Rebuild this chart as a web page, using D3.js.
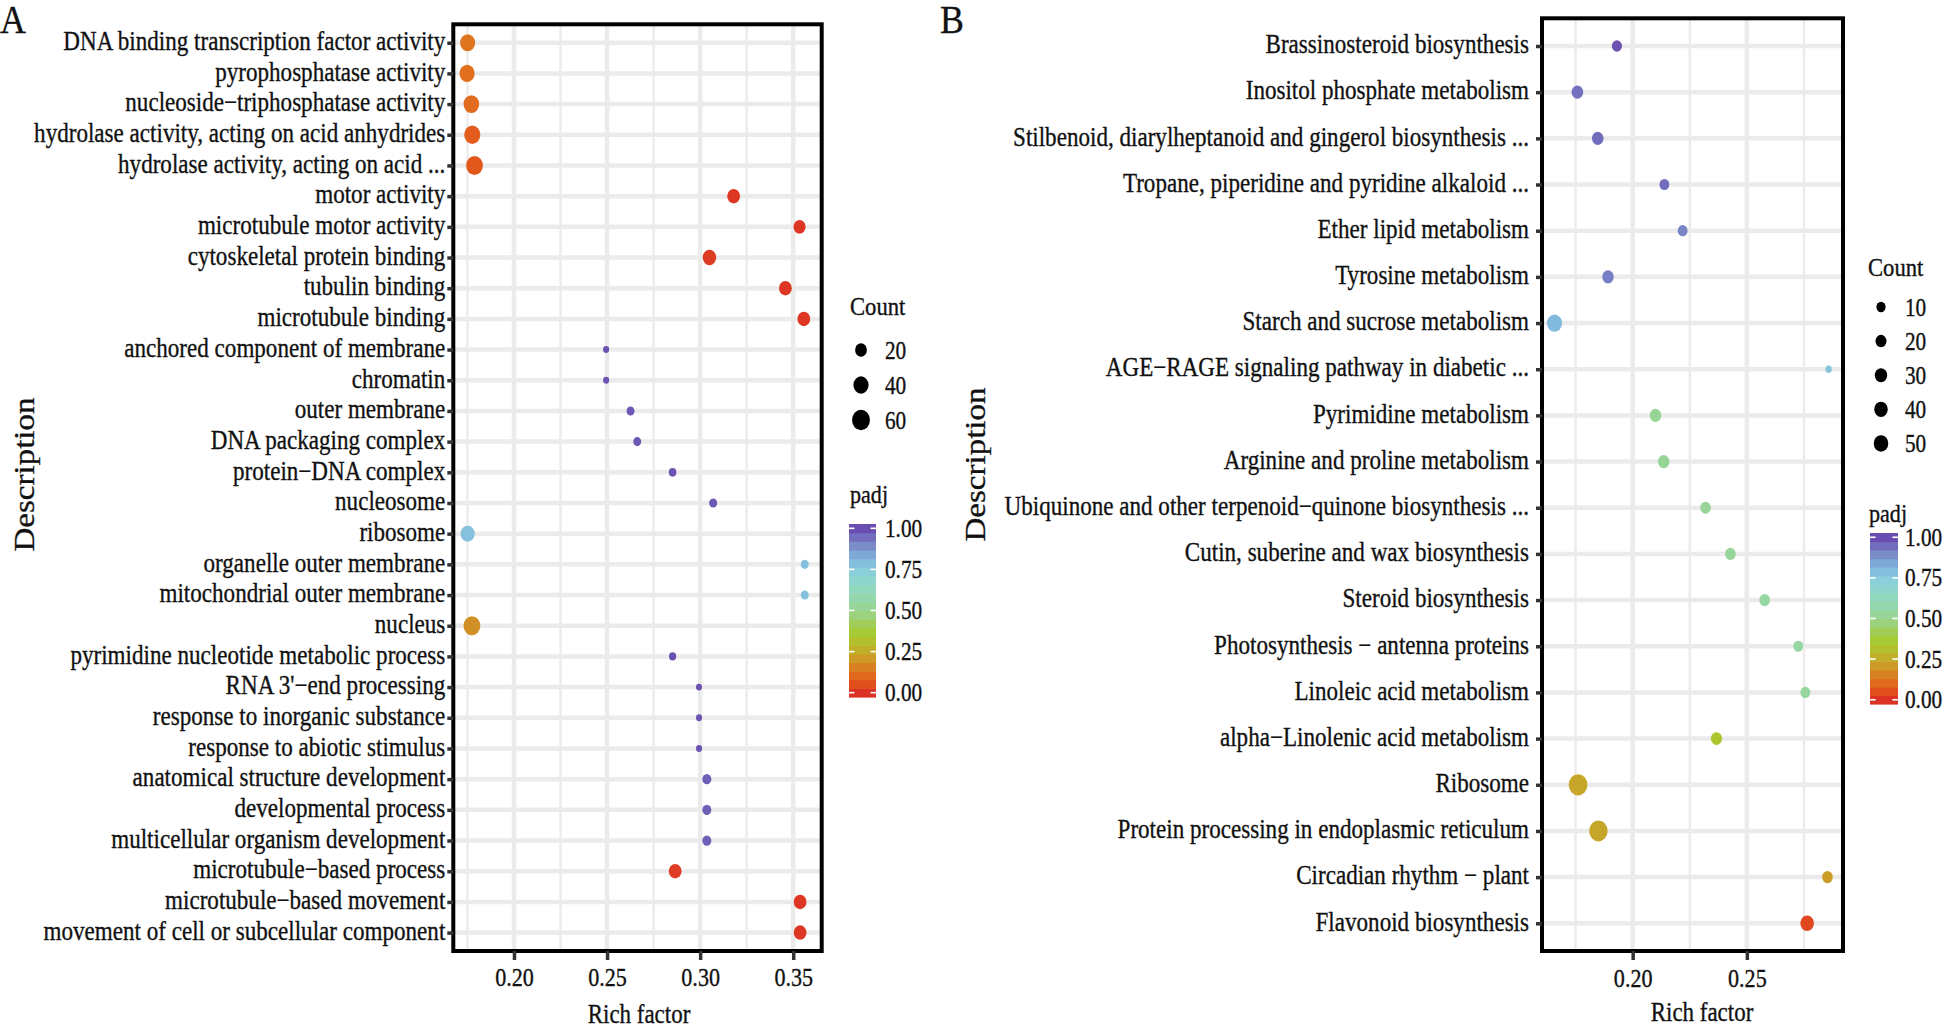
<!DOCTYPE html>
<html><head><meta charset="utf-8">
<script src="https://cdn.jsdelivr.net/npm/d3@7"></script>
<style>
html,body{margin:0;padding:0;background:#fff;}
svg{display:block;}
text{font-family:"Liberation Serif","Times New Roman",serif;fill:#111;stroke:#111;stroke-width:0.35px;}
</style>
</head><body>
<svg id="chart" width="1945" height="1029"></svg>
<script>
// ---------------- DATA ----------------
const goTerms = [
  "DNA binding transcription factor activity",
  "pyrophosphatase activity",
  "nucleoside\u2212triphosphatase activity",
  "hydrolase activity, acting on acid anhydrides",
  "hydrolase activity, acting on acid ...",
  "motor activity",
  "microtubule motor activity",
  "cytoskeletal protein binding",
  "tubulin binding",
  "microtubule binding",
  "anchored component of membrane",
  "chromatin",
  "outer membrane",
  "DNA packaging complex",
  "protein\u2212DNA complex",
  "nucleosome",
  "ribosome",
  "organelle outer membrane",
  "mitochondrial outer membrane",
  "nucleus",
  "pyrimidine nucleotide metabolic process",
  "RNA 3'\u2212end processing",
  "response to inorganic substance",
  "response to abiotic stimulus",
  "anatomical structure development",
  "developmental process",
  "multicellular organism development",
  "microtubule\u2212based process",
  "microtubule\u2212based movement",
  "movement of cell or subcellular component"
];
const goRich = [0.1751,0.1748,0.1771,0.1776,0.1788,0.3180,0.3534,0.3050,0.3458,0.3557,
  0.2495,0.2495,0.2626,0.2662,0.2852,0.3070,0.1751,0.3562,0.3562,0.1774,
  0.2852,0.2994,0.2994,0.2994,0.3036,0.3036,0.3036,0.2866,0.3537,0.3537];
const goCount = [39,39,43,46,51,25,22,29,25,25,
  2,2,6,6,5,6,33,6,6,52,
  4,2,2,2,9,9,9,25,25,25];
const goPadj = [0.13,0.12,0.11,0.08,0.07,0.01,0.01,0.02,0.01,0.01,
  0.99,0.99,0.98,0.98,0.99,0.98,0.78,0.78,0.78,0.19,
  0.99,0.99,0.99,0.99,0.97,0.97,0.97,0.02,0.01,0.01];

const keggTerms = [
  "Brassinosteroid biosynthesis",
  "Inositol phosphate metabolism",
  "Stilbenoid, diarylheptanoid and gingerol biosynthesis ...",
  "Tropane, piperidine and pyridine alkaloid ...",
  "Ether lipid metabolism",
  "Tyrosine metabolism",
  "Starch and sucrose metabolism",
  "AGE\u2212RAGE signaling pathway in diabetic ...",
  "Pyrimidine metabolism",
  "Arginine and proline metabolism",
  "Ubiquinone and other terpenoid\u2212quinone biosynthesis ...",
  "Cutin, suberine and wax biosynthesis",
  "Steroid biosynthesis",
  "Photosynthesis \u2212 antenna proteins",
  "Linoleic acid metabolism",
  "alpha\u2212Linolenic acid metabolism",
  "Ribosome",
  "Protein processing in endoplasmic reticulum",
  "Circadian rhythm \u2212 plant",
  "Flavonoid biosynthesis"
];
const keggRich = [0.1931,0.1758,0.1847,0.2139,0.2219,0.1892,0.1658,0.2858,0.2100,0.2136,
  0.2319,0.2428,0.2578,0.2725,0.2756,0.2367,0.1761,0.1850,0.2853,0.2764];
const keggCount = [15,24,24,13,13,24,57,1,24,24,18,18,18,13,13,21,103,100,18,41];
const keggPadj = [0.99,0.94,0.95,0.95,0.91,0.92,0.80,0.77,0.52,0.52,
  0.53,0.53,0.55,0.55,0.54,0.34,0.24,0.24,0.22,0.04];

const richTicksA = [0.20,0.25,0.30,0.35];
const richTicksB = [0.20,0.25];
const countBreaksA = [20,40,60];
const countBreaksB = [10,20,30,40,50];
const padjTicks = [0,0.25,0.5,0.75,1];
const padjLimits = [0,1];

// ---------------- STYLE ----------------
const palDomain = [0, 0.06, 0.12, 0.2, 0.28, 0.36, 0.5, 0.62, 0.72, 0.82, 0.9, 1];
const palRange = ["#dc3226","#e2521c","#e1701e","#cf9426","#bcb82a","#a6ca30","#98d48e","#92d8bc","#8cd4d8","#80b4de","#7a8ac8","#6a4db0"];
const color = d3.scaleLinear().domain(palDomain).range(palRange).clamp(true);
const GRID = "#ebebeb";
const SERIF = '"Liberation Serif","Times New Roman",serif';

const svg = d3.select("#chart");
svg.append("rect").attr("width",1945).attr("height",1029).attr("fill","#fff");

function label(g, x, y, str, size, anchor, sx) {
  return g.append("text")
    .attr("transform", `translate(${x},${y}) scale(${sx},1)`)
    .attr("text-anchor", anchor)
    .attr("font-size", size)
    .text(str);
}

function drawPanel(cfg, terms, rich, count, padj, ticks, breaks) {
  const g = svg.append("g");
  const x = d3.scaleLinear().domain(cfg.xDomain).range([cfg.left, cfg.right]);
  const y = d3.scalePoint().domain(terms).range([cfg.top, cfg.bottom]).padding(0.6);
  const r = d3.scaleSqrt().domain([d3.min(count), d3.max(count)]).range(cfg.rRange);

  // grid
  const step = ticks[1] - ticks[0];
  const minor = [];
  for (let k = -2; k < 20; k++) {
    const v = ticks[0] - step / 2 + k * step;
    if (v > cfg.xDomain[0] && v < cfg.xDomain[1]) minor.push(v);
  }
  g.selectAll(".minor").data(minor).join("line")
    .attr("x1", d => x(d)).attr("x2", d => x(d))
    .attr("y1", cfg.top).attr("y2", cfg.bottom)
    .attr("stroke", GRID).attr("stroke-width", 2.3);
  g.selectAll(".major").data(ticks).join("line")
    .attr("x1", d => x(d)).attr("x2", d => x(d))
    .attr("y1", cfg.top).attr("y2", cfg.bottom)
    .attr("stroke", GRID).attr("stroke-width", 4.5);
  g.selectAll(".hrow").data(terms).join("line")
    .attr("x1", cfg.left).attr("x2", cfg.right)
    .attr("y1", d => y(d)).attr("y2", d => y(d))
    .attr("stroke", GRID).attr("stroke-width", 4.5);

  // points
  const pts = terms.map((t, i) => ({t, rich: rich[i], count: count[i], padj: padj[i]}));
  g.selectAll(".pt").data(pts).join("ellipse")
    .attr("cx", d => x(d.rich)).attr("cy", d => y(d.t))
    .attr("ry", d => r(d.count)).attr("rx", d => r(d.count) * cfg.aspect)
    .attr("fill", d => color(d.padj));

  // border
  g.append("rect").attr("x", cfg.left).attr("y", cfg.top)
    .attr("width", cfg.right - cfg.left).attr("height", cfg.bottom - cfg.top)
    .attr("fill", "none").attr("stroke", "#000").attr("stroke-width", 4);

  // y axis
  const ya = g.append("g").attr("transform", `translate(${cfg.left},0)`)
    .call(d3.axisLeft(y).tickSize(6).tickPadding(2));
  ya.select(".domain").remove();
  ya.selectAll(".tick line").attr("stroke", "#333").attr("stroke-width", 3.5);
  ya.selectAll(".tick text")
    .attr("x", -cfg.labelGap / cfg.sx).attr("dy", "0.25em")
    .attr("transform", `scale(${cfg.sx},1)`)
    .attr("font-size", 27).attr("font-family", SERIF).attr("fill", "#111");

  // x axis
  const xa = g.append("g").attr("transform", `translate(0,${cfg.bottom})`)
    .call(d3.axisBottom(x).tickValues(ticks).tickFormat(d3.format(".2f")).tickSize(9));
  xa.select(".domain").remove();
  xa.selectAll(".tick line").attr("stroke", "#333").attr("stroke-width", 3.5);
  xa.selectAll(".tick text")
    .attr("y", cfg.tickLabelDy).attr("dy", 0).attr("x", 0)
    .attr("transform", `scale(0.85,1)`)
    .attr("font-size", 26).attr("font-family", SERIF).attr("fill", "#111");

  // titles
  label(g, cfg.xTitle[0], cfg.xTitle[1], "Rich factor", 27, "middle", 0.85);
  g.append("text")
    .attr("transform", `translate(${cfg.yTitle[0]},${cfg.yTitle[1]}) rotate(-90) scale(1,0.88)`)
    .attr("text-anchor", "middle").attr("font-size", 33).text("Description");
  label(g, cfg.letter[0], cfg.letter[1], cfg.letterText, 39, "start", 0.92);

  // size legend
  const L = cfg.legend;
  label(g, L.countTitle[0], L.countTitle[1], "Count", 26, "start", 0.87);
  breaks.forEach((b, i) => {
    const cy = L.keyY0 + i * L.keyStep;
    g.append("ellipse").attr("cx", L.keyX).attr("cy", cy)
      .attr("ry", r(b)).attr("rx", r(b) * cfg.aspect).attr("fill", "#000");
    label(g, L.labelX, cy + 8.5, String(b), 25, "start", 0.85);
  });

  // colour bar
  label(g, L.padjTitle[0], L.padjTitle[1], "padj", 26, "start", 0.85);
  const nbin = 20, bh = L.bar.h / nbin;
  const bins = d3.range(nbin).map(i => padjLimits[0] + i / (nbin - 1) * (padjLimits[1] - padjLimits[0]));
  g.selectAll(".bin").data(bins).join("rect")
    .attr("x", L.bar.x).attr("width", L.bar.w)
    .attr("y", (d, i) => L.bar.y + L.bar.h - (i + 1) * bh).attr("height", bh + 0.6)
    .attr("fill", d => color(d));
  const bary = v => L.bar.y + L.bar.h - L.bar.h * (0.5 + (v - padjLimits[0]) / (padjLimits[1] - padjLimits[0]) * (nbin - 1)) / nbin;
  padjTicks.forEach(v => {
    const ty = bary(v), tl = L.bar.w / 5;
    g.append("line").attr("x1", L.bar.x).attr("x2", L.bar.x + tl).attr("y1", ty).attr("y2", ty)
      .attr("stroke", "#fff").attr("stroke-width", 1.6);
    g.append("line").attr("x1", L.bar.x + L.bar.w - tl).attr("x2", L.bar.x + L.bar.w).attr("y1", ty).attr("y2", ty)
      .attr("stroke", "#fff").attr("stroke-width", 1.6);
    label(g, L.labelX, ty + 8.5, d3.format(".2f")(v), 25, "start", 0.85);
  });
}

drawPanel({
  left: 453.3, right: 821.7, top: 24.3, bottom: 951,
  xDomain: [0.1674, 0.3653], rRange: [3.45, 9.6], aspect: 0.88,
  labelGap: 8, sx: 0.855, tickLabelDy: 35,
  xTitle: [639, 1023], yTitle: [34, 474.5], letter: [0, 33], letterText: "A",
  legend: {
    countTitle: [850, 315], keyX: 861, keyY0: 350, keyStep: 35, labelX: 885,
    padjTitle: [850, 503], bar: {x: 849, y: 524, w: 27, h: 173}
  }
}, goTerms, goRich, goCount, goPadj, richTicksA, countBreaksA);

drawPanel({
  left: 1542, right: 1843, top: 18.3, bottom: 951,
  xDomain: [0.1603, 0.2921], rRange: [3.6, 10.6], aspect: 0.88,
  labelGap: 13, sx: 0.855, tickLabelDy: 36,
  xTitle: [1702, 1021], yTitle: [985, 464.5], letter: [940, 33], letterText: "B",
  legend: {
    countTitle: [1868, 276], keyX: 1881, keyY0: 307, keyStep: 34.1, labelX: 1905,
    padjTitle: [1869, 522], bar: {x: 1870, y: 533, w: 28, h: 171}
  }
}, keggTerms, keggRich, keggCount, keggPadj, richTicksB, countBreaksB);
</script>
</body></html>
